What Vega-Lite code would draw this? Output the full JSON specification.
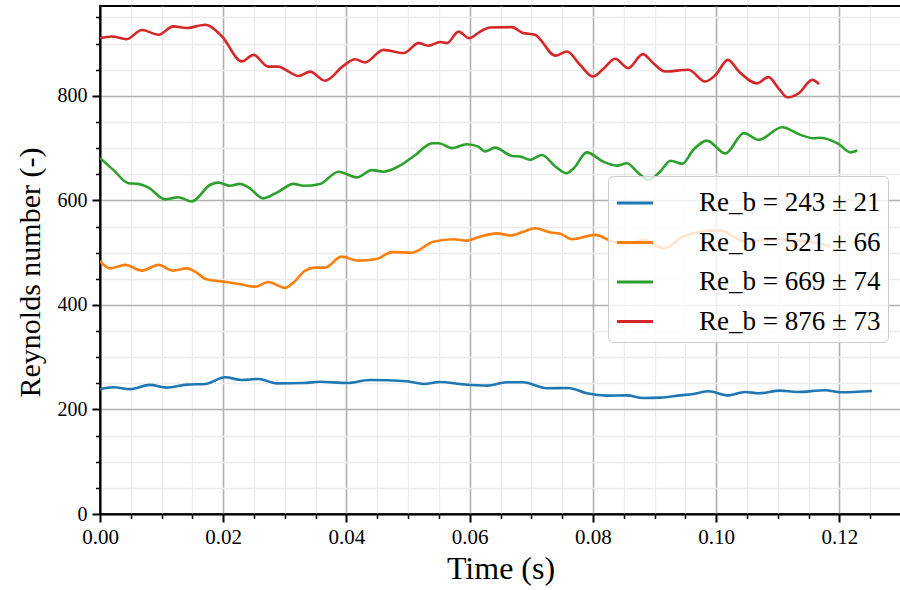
{
  "$schema": "https://vega.github.io/schema/vega-lite/v6.json",
  "width": 801,
  "height": 508,
  "autosize": {"type": "none"},
  "padding": {"left": 100, "top": 6, "right": 0, "bottom": 76},
  "background": "white",
  "config": {
    "view": {"stroke": "black", "strokeWidth": 2},
    "font": "Liberation Serif"
  },
  "data": {"values": [
    {"t":0,"Re":239,"series":"Re_b = 243 ± 21"},
    {"t":0.0022,"Re":242.5,"series":"Re_b = 243 ± 21"},
    {"t":0.0049,"Re":239,"series":"Re_b = 243 ± 21"},
    {"t":0.0081,"Re":247,"series":"Re_b = 243 ± 21"},
    {"t":0.0108,"Re":241.8,"series":"Re_b = 243 ± 21"},
    {"t":0.0141,"Re":247.5,"series":"Re_b = 243 ± 21"},
    {"t":0.0171,"Re":248.8,"series":"Re_b = 243 ± 21"},
    {"t":0.0203,"Re":261.6,"series":"Re_b = 243 ± 21"},
    {"t":0.023,"Re":256.5,"series":"Re_b = 243 ± 21"},
    {"t":0.0257,"Re":258.4,"series":"Re_b = 243 ± 21"},
    {"t":0.0287,"Re":250,"series":"Re_b = 243 ± 21"},
    {"t":0.033,"Re":250.7,"series":"Re_b = 243 ± 21"},
    {"t":0.0357,"Re":253,"series":"Re_b = 243 ± 21"},
    {"t":0.0401,"Re":250.7,"series":"Re_b = 243 ± 21"},
    {"t":0.0438,"Re":256.5,"series":"Re_b = 243 ± 21"},
    {"t":0.0498,"Re":254,"series":"Re_b = 243 ± 21"},
    {"t":0.0525,"Re":248.8,"series":"Re_b = 243 ± 21"},
    {"t":0.0552,"Re":252.6,"series":"Re_b = 243 ± 21"},
    {"t":0.059,"Re":248,"series":"Re_b = 243 ± 21"},
    {"t":0.0628,"Re":245.6,"series":"Re_b = 243 ± 21"},
    {"t":0.066,"Re":252,"series":"Re_b = 243 ± 21"},
    {"t":0.0687,"Re":252,"series":"Re_b = 243 ± 21"},
    {"t":0.0725,"Re":240.6,"series":"Re_b = 243 ± 21"},
    {"t":0.076,"Re":241.2,"series":"Re_b = 243 ± 21"},
    {"t":0.079,"Re":231,"series":"Re_b = 243 ± 21"},
    {"t":0.0823,"Re":226.5,"series":"Re_b = 243 ± 21"},
    {"t":0.0855,"Re":227,"series":"Re_b = 243 ± 21"},
    {"t":0.0882,"Re":222,"series":"Re_b = 243 ± 21"},
    {"t":0.0909,"Re":222.6,"series":"Re_b = 243 ± 21"},
    {"t":0.0942,"Re":227,"series":"Re_b = 243 ± 21"},
    {"t":0.0963,"Re":229.7,"series":"Re_b = 243 ± 21"},
    {"t":0.0988,"Re":234.8,"series":"Re_b = 243 ± 21"},
    {"t":0.1018,"Re":227,"series":"Re_b = 243 ± 21"},
    {"t":0.1047,"Re":233.5,"series":"Re_b = 243 ± 21"},
    {"t":0.1069,"Re":231,"series":"Re_b = 243 ± 21"},
    {"t":0.1104,"Re":236,"series":"Re_b = 243 ± 21"},
    {"t":0.1131,"Re":233.5,"series":"Re_b = 243 ± 21"},
    {"t":0.1177,"Re":236.8,"series":"Re_b = 243 ± 21"},
    {"t":0.1202,"Re":233,"series":"Re_b = 243 ± 21"},
    {"t":0.1253,"Re":235.4,"series":"Re_b = 243 ± 21"},

    {"t":0,"Re":484,"series":"Re_b = 521 ± 66"},
    {"t":0.0016,"Re":470,"series":"Re_b = 521 ± 66"},
    {"t":0.0041,"Re":476.6,"series":"Re_b = 521 ± 66"},
    {"t":0.0068,"Re":465.7,"series":"Re_b = 521 ± 66"},
    {"t":0.0095,"Re":476.6,"series":"Re_b = 521 ± 66"},
    {"t":0.0119,"Re":465.7,"series":"Re_b = 521 ± 66"},
    {"t":0.0141,"Re":470,"series":"Re_b = 521 ± 66"},
    {"t":0.0154,"Re":463.8,"series":"Re_b = 521 ± 66"},
    {"t":0.0173,"Re":449,"series":"Re_b = 521 ± 66"},
    {"t":0.02,"Re":444.6,"series":"Re_b = 521 ± 66"},
    {"t":0.0227,"Re":440,"series":"Re_b = 521 ± 66"},
    {"t":0.0252,"Re":435,"series":"Re_b = 521 ± 66"},
    {"t":0.0273,"Re":444,"series":"Re_b = 521 ± 66"},
    {"t":0.03,"Re":432.6,"series":"Re_b = 521 ± 66"},
    {"t":0.0314,"Re":442.7,"series":"Re_b = 521 ± 66"},
    {"t":0.0333,"Re":465.7,"series":"Re_b = 521 ± 66"},
    {"t":0.0349,"Re":471.4,"series":"Re_b = 521 ± 66"},
    {"t":0.0365,"Re":471.4,"series":"Re_b = 521 ± 66"},
    {"t":0.0392,"Re":492.5,"series":"Re_b = 521 ± 66"},
    {"t":0.0419,"Re":484.8,"series":"Re_b = 521 ± 66"},
    {"t":0.0449,"Re":488,"series":"Re_b = 521 ± 66"},
    {"t":0.0474,"Re":501,"series":"Re_b = 521 ± 66"},
    {"t":0.0506,"Re":500,"series":"Re_b = 521 ± 66"},
    {"t":0.0541,"Re":521,"series":"Re_b = 521 ± 66"},
    {"t":0.0574,"Re":525.8,"series":"Re_b = 521 ± 66"},
    {"t":0.0595,"Re":523,"series":"Re_b = 521 ± 66"},
    {"t":0.0614,"Re":529.6,"series":"Re_b = 521 ± 66"},
    {"t":0.0644,"Re":537,"series":"Re_b = 521 ± 66"},
    {"t":0.0666,"Re":533,"series":"Re_b = 521 ± 66"},
    {"t":0.0687,"Re":540,"series":"Re_b = 521 ± 66"},
    {"t":0.0706,"Re":546.8,"series":"Re_b = 521 ± 66"},
    {"t":0.0731,"Re":538.5,"series":"Re_b = 521 ± 66"},
    {"t":0.0747,"Re":536,"series":"Re_b = 521 ± 66"},
    {"t":0.0766,"Re":525.8,"series":"Re_b = 521 ± 66"},
    {"t":0.0804,"Re":534,"series":"Re_b = 521 ± 66"},
    {"t":0.0833,"Re":521,"series":"Re_b = 521 ± 66"},
    {"t":0.0861,"Re":518,"series":"Re_b = 521 ± 66"},
    {"t":0.0882,"Re":524.5,"series":"Re_b = 521 ± 66"},
    {"t":0.0915,"Re":508,"series":"Re_b = 521 ± 66"},
    {"t":0.0947,"Re":531,"series":"Re_b = 521 ± 66"},
    {"t":0.0974,"Re":540,"series":"Re_b = 521 ± 66"},
    {"t":0.1007,"Re":542.6,"series":"Re_b = 521 ± 66"},
    {"t":0.1028,"Re":530.8,"series":"Re_b = 521 ± 66"},
    {"t":0.105,"Re":520,"series":"Re_b = 521 ± 66"},
    {"t":0.1088,"Re":526,"series":"Re_b = 521 ± 66"},
    {"t":0.1126,"Re":524,"series":"Re_b = 521 ± 66"},
    {"t":0.1158,"Re":520,"series":"Re_b = 521 ± 66"},
    {"t":0.1185,"Re":512,"series":"Re_b = 521 ± 66"},

    {"t":0,"Re":681,"series":"Re_b = 669 ± 74"},
    {"t":0.0022,"Re":658,"series":"Re_b = 669 ± 74"},
    {"t":0.0046,"Re":633,"series":"Re_b = 669 ± 74"},
    {"t":0.0062,"Re":631.6,"series":"Re_b = 669 ± 74"},
    {"t":0.0078,"Re":625,"series":"Re_b = 669 ± 74"},
    {"t":0.0106,"Re":602,"series":"Re_b = 669 ± 74"},
    {"t":0.0127,"Re":606,"series":"Re_b = 669 ± 74"},
    {"t":0.0149,"Re":598,"series":"Re_b = 669 ± 74"},
    {"t":0.0179,"Re":630,"series":"Re_b = 669 ± 74"},
    {"t":0.0192,"Re":634,"series":"Re_b = 669 ± 74"},
    {"t":0.0211,"Re":628,"series":"Re_b = 669 ± 74"},
    {"t":0.0227,"Re":631.6,"series":"Re_b = 669 ± 74"},
    {"t":0.0241,"Re":625,"series":"Re_b = 669 ± 74"},
    {"t":0.0265,"Re":604,"series":"Re_b = 669 ± 74"},
    {"t":0.0287,"Re":615,"series":"Re_b = 669 ± 74"},
    {"t":0.0314,"Re":631.6,"series":"Re_b = 669 ± 74"},
    {"t":0.033,"Re":628,"series":"Re_b = 669 ± 74"},
    {"t":0.0357,"Re":631.6,"series":"Re_b = 669 ± 74"},
    {"t":0.0387,"Re":655,"series":"Re_b = 669 ± 74"},
    {"t":0.0417,"Re":644,"series":"Re_b = 669 ± 74"},
    {"t":0.0441,"Re":658,"series":"Re_b = 669 ± 74"},
    {"t":0.046,"Re":655,"series":"Re_b = 669 ± 74"},
    {"t":0.0482,"Re":663.6,"series":"Re_b = 669 ± 74"},
    {"t":0.0512,"Re":687,"series":"Re_b = 669 ± 74"},
    {"t":0.0539,"Re":709.5,"series":"Re_b = 669 ± 74"},
    {"t":0.055,"Re":709.5,"series":"Re_b = 669 ± 74"},
    {"t":0.0571,"Re":700,"series":"Re_b = 669 ± 74"},
    {"t":0.0595,"Re":707.6,"series":"Re_b = 669 ± 74"},
    {"t":0.0614,"Re":703,"series":"Re_b = 669 ± 74"},
    {"t":0.0625,"Re":693.5,"series":"Re_b = 669 ± 74"},
    {"t":0.0641,"Re":701,"series":"Re_b = 669 ± 74"},
    {"t":0.0669,"Re":685,"series":"Re_b = 669 ± 74"},
    {"t":0.0682,"Re":684,"series":"Re_b = 669 ± 74"},
    {"t":0.0698,"Re":677.6,"series":"Re_b = 669 ± 74"},
    {"t":0.0717,"Re":687,"series":"Re_b = 669 ± 74"},
    {"t":0.0739,"Re":665,"series":"Re_b = 669 ± 74"},
    {"t":0.0757,"Re":652,"series":"Re_b = 669 ± 74"},
    {"t":0.0769,"Re":661.7,"series":"Re_b = 669 ± 74"},
    {"t":0.079,"Re":692,"series":"Re_b = 669 ± 74"},
    {"t":0.0817,"Re":674,"series":"Re_b = 669 ± 74"},
    {"t":0.0839,"Re":666.6,"series":"Re_b = 669 ± 74"},
    {"t":0.0855,"Re":671,"series":"Re_b = 669 ± 74"},
    {"t":0.0874,"Re":652,"series":"Re_b = 669 ± 74"},
    {"t":0.089,"Re":639,"series":"Re_b = 669 ± 74"},
    {"t":0.0909,"Re":655,"series":"Re_b = 669 ± 74"},
    {"t":0.0926,"Re":676,"series":"Re_b = 669 ± 74"},
    {"t":0.0945,"Re":670,"series":"Re_b = 669 ± 74"},
    {"t":0.0963,"Re":697,"series":"Re_b = 669 ± 74"},
    {"t":0.0985,"Re":714.5,"series":"Re_b = 669 ± 74"},
    {"t":0.1015,"Re":690,"series":"Re_b = 669 ± 74"},
    {"t":0.1045,"Re":728.7,"series":"Re_b = 669 ± 74"},
    {"t":0.1069,"Re":716,"series":"Re_b = 669 ± 74"},
    {"t":0.1107,"Re":740,"series":"Re_b = 669 ± 74"},
    {"t":0.1137,"Re":725.4,"series":"Re_b = 669 ± 74"},
    {"t":0.1158,"Re":719,"series":"Re_b = 669 ± 74"},
    {"t":0.1169,"Re":720,"series":"Re_b = 669 ± 74"},
    {"t":0.1199,"Re":707.6,"series":"Re_b = 669 ± 74"},
    {"t":0.1218,"Re":692,"series":"Re_b = 669 ± 74"},
    {"t":0.1229,"Re":695.4,"series":"Re_b = 669 ± 74"},

    {"t":0,"Re":910.5,"series":"Re_b = 876 ± 73"},
    {"t":0.0019,"Re":913.6,"series":"Re_b = 876 ± 73"},
    {"t":0.0043,"Re":908.5,"series":"Re_b = 876 ± 73"},
    {"t":0.0068,"Re":926,"series":"Re_b = 876 ± 73"},
    {"t":0.0095,"Re":917,"series":"Re_b = 876 ± 73"},
    {"t":0.0119,"Re":933,"series":"Re_b = 876 ± 73"},
    {"t":0.0141,"Re":930,"series":"Re_b = 876 ± 73"},
    {"t":0.0171,"Re":936,"series":"Re_b = 876 ± 73"},
    {"t":0.0198,"Re":913.6,"series":"Re_b = 876 ± 73"},
    {"t":0.023,"Re":866,"series":"Re_b = 876 ± 73"},
    {"t":0.0249,"Re":878.5,"series":"Re_b = 876 ± 73"},
    {"t":0.0273,"Re":856,"series":"Re_b = 876 ± 73"},
    {"t":0.029,"Re":856,"series":"Re_b = 876 ± 73"},
    {"t":0.0303,"Re":848.5,"series":"Re_b = 876 ± 73"},
    {"t":0.0322,"Re":838,"series":"Re_b = 876 ± 73"},
    {"t":0.0341,"Re":846.5,"series":"Re_b = 876 ± 73"},
    {"t":0.0365,"Re":829,"series":"Re_b = 876 ± 73"},
    {"t":0.0395,"Re":857.5,"series":"Re_b = 876 ± 73"},
    {"t":0.0414,"Re":870,"series":"Re_b = 876 ± 73"},
    {"t":0.043,"Re":864,"series":"Re_b = 876 ± 73"},
    {"t":0.046,"Re":888,"series":"Re_b = 876 ± 73"},
    {"t":0.0493,"Re":882,"series":"Re_b = 876 ± 73"},
    {"t":0.0517,"Re":901,"series":"Re_b = 876 ± 73"},
    {"t":0.0533,"Re":896,"series":"Re_b = 876 ± 73"},
    {"t":0.0552,"Re":903,"series":"Re_b = 876 ± 73"},
    {"t":0.0563,"Re":901,"series":"Re_b = 876 ± 73"},
    {"t":0.0582,"Re":923,"series":"Re_b = 876 ± 73"},
    {"t":0.0599,"Re":910.5,"series":"Re_b = 876 ± 73"},
    {"t":0.0617,"Re":923,"series":"Re_b = 876 ± 73"},
    {"t":0.0633,"Re":931,"series":"Re_b = 876 ± 73"},
    {"t":0.0669,"Re":931.5,"series":"Re_b = 876 ± 73"},
    {"t":0.0685,"Re":921,"series":"Re_b = 876 ± 73"},
    {"t":0.0706,"Re":917,"series":"Re_b = 876 ± 73"},
    {"t":0.0739,"Re":877,"series":"Re_b = 876 ± 73"},
    {"t":0.0758,"Re":885,"series":"Re_b = 876 ± 73"},
    {"t":0.0779,"Re":859.5,"series":"Re_b = 876 ± 73"},
    {"t":0.08,"Re":837,"series":"Re_b = 876 ± 73"},
    {"t":0.0818,"Re":853,"series":"Re_b = 876 ± 73"},
    {"t":0.0836,"Re":871,"series":"Re_b = 876 ± 73"},
    {"t":0.0857,"Re":853,"series":"Re_b = 876 ± 73"},
    {"t":0.0881,"Re":880,"series":"Re_b = 876 ± 73"},
    {"t":0.0898,"Re":862.6,"series":"Re_b = 876 ± 73"},
    {"t":0.0917,"Re":846.6,"series":"Re_b = 876 ± 73"},
    {"t":0.0955,"Re":850,"series":"Re_b = 876 ± 73"},
    {"t":0.0982,"Re":827.5,"series":"Re_b = 876 ± 73"},
    {"t":0.0999,"Re":840,"series":"Re_b = 876 ± 73"},
    {"t":0.1019,"Re":869,"series":"Re_b = 876 ± 73"},
    {"t":0.1037,"Re":846.6,"series":"Re_b = 876 ± 73"},
    {"t":0.1066,"Re":824,"series":"Re_b = 876 ± 73"},
    {"t":0.1085,"Re":836,"series":"Re_b = 876 ± 73"},
    {"t":0.1101,"Re":815,"series":"Re_b = 876 ± 73"},
    {"t":0.1116,"Re":797,"series":"Re_b = 876 ± 73"},
    {"t":0.1134,"Re":805,"series":"Re_b = 876 ± 73"},
    {"t":0.1156,"Re":830.7,"series":"Re_b = 876 ± 73"},
    {"t":0.1167,"Re":822.5,"series":"Re_b = 876 ± 73"}
  ]},
  "mark": {"type": "line", "strokeWidth": 2.6, "interpolate": "monotone", "clip": true},
  "encoding": {
    "x": {
      "field": "t", "type": "quantitative",
      "scale": {"domain": [0, 0.13], "nice": false, "zero": false},
      "axis": {
        "title": "Time (s)",
        "values": [0,0.005,0.01,0.015,0.02,0.025,0.03,0.035,0.04,0.045,0.05,0.055,0.06,0.065,0.07,0.075,0.08,0.085,0.09,0.095,0.1,0.105,0.11,0.115,0.12,0.125,0.13],
        "labelExpr": "abs(datum.value*50 - round(datum.value*50)) < 0.001 ? format(datum.value, '.2f') : ''",
        "labelFont": "Liberation Serif", "labelFontSize": 21, "labelColor": "black",
        "labelPadding": 4, "labelFlush": false, "labelOverlap": false,
        "titleFont": "Liberation Serif", "titleFontSize": 32, "titleFontWeight": "normal", "titleColor": "black", "titlePadding": 6,
        "domainColor": "black", "domainWidth": 2,
        "tickColor": "black",
        "tickSize": {"condition": {"test": "abs(datum.value*50 - round(datum.value*50)) < 0.001", "value": 8}, "value": 4.5},
        "tickWidth": {"condition": {"test": "abs(datum.value*50 - round(datum.value*50)) < 0.001", "value": 2}, "value": 1.5},
        "grid": true,
        "gridColor": {"condition": {"test": "abs(datum.value*50 - round(datum.value*50)) < 0.001", "value": "#b0b0b0"}, "value": "#ebebeb"},
        "gridWidth": {"condition": {"test": "abs(datum.value*50 - round(datum.value*50)) < 0.001", "value": 1.6}, "value": 1.3}
      }
    },
    "y": {
      "field": "Re", "type": "quantitative",
      "scale": {"domain": [0, 972], "nice": false, "zero": false},
      "axis": {
        "title": "Reynolds number (-)",
        "values": [0,50,100,150,200,250,300,350,400,450,500,550,600,650,700,750,800,850,900,950],
        "labelExpr": "datum.value % 200 == 0 ? format(datum.value, 'd') : ''",
        "labelFont": "Liberation Serif", "labelFontSize": 20, "labelColor": "black",
        "labelPadding": 5, "labelOverlap": false,
        "titleFont": "Liberation Serif", "titleFontSize": 30, "titleFontWeight": "normal", "titleColor": "black", "titlePadding": 12,
        "titleY": 266,
        "domainColor": "black", "domainWidth": 2,
        "tickColor": "black",
        "tickSize": {"condition": {"test": "datum.value % 200 == 0", "value": 8}, "value": 4.5},
        "tickWidth": {"condition": {"test": "datum.value % 200 == 0", "value": 2}, "value": 1.5},
        "grid": true,
        "gridColor": {"condition": {"test": "datum.value % 200 == 0", "value": "#b0b0b0"}, "value": "#ebebeb"},
        "gridWidth": {"condition": {"test": "datum.value % 200 == 0", "value": 1.6}, "value": 1.3}
      }
    },
    "color": {
      "field": "series", "type": "nominal",
      "scale": {"domain": ["Re_b = 243 ± 21", "Re_b = 521 ± 66", "Re_b = 669 ± 74", "Re_b = 876 ± 73"], "range": ["#1f77b4", "#ff7f0e", "#2ca02c", "#d62728"]},
      "legend": {
        "title": null,
        "orient": "none",
        "legendX": 508,
        "legendY": 170,
        "symbolType": "stroke",
        "symbolSize": 1300,
        "symbolStrokeWidth": 3,
        "labelFont": "Liberation Serif",
        "labelFontSize": 27,
        "labelColor": "black",
        "labelOffset": 44,
        "labelLimit": 400,
        "rowPadding": 6.5,
        "padding": 7,
        "fillColor": "rgba(255,255,255,0.8)",
        "strokeColor": "#cccccc",
        "cornerRadius": 5,
        "zindex": 2
      }
    }
  }
}
